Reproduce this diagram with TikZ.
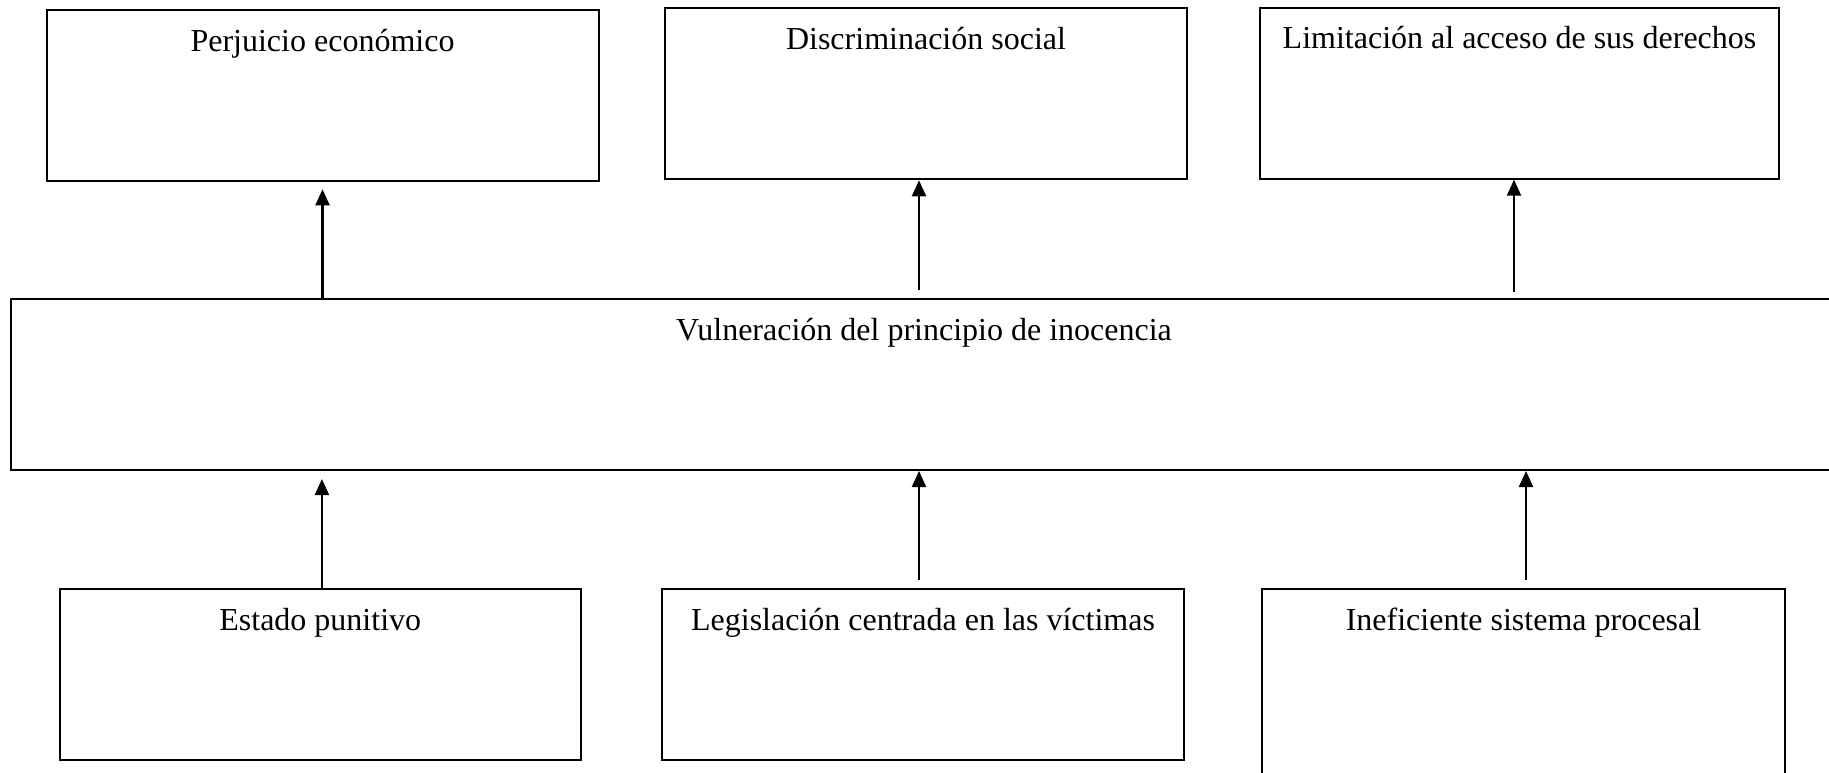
\documentclass[tikz,border=0pt]{standalone}
\usepackage{fontspec}
\setmainfont{Liberation Serif}
\usetikzlibrary{positioning,arrows.meta,calc}
\tikzset{
  caja/.style={draw,line width=2pt,inner sep=0pt,minimum height=171pt},
  rotulo/.style={anchor=base,yshift=-42pt,inner sep=0pt,font=\fontsize{32}{38}\selectfont},
  every edge/.style={draw,-{Triangle[length=16pt,width=14pt]},line width=2.2pt},
}
\begin{document}
\begin{tikzpicture}[x=1pt,y=-1pt]
\useasboundingbox (0,0) rectangle (1829,772);

% efectos
\node[caja,anchor=north west,minimum width=552pt,label={[rotulo]north:Perjuicio económico}] (Pe) at (45.5,9.3) {};
\node[caja,anchor=north west,minimum width=522pt,label={[rotulo]north:Discriminación social}] (Di) at (664,7.3) {};
\node[caja,anchor=north west,minimum width=519pt,label={[rotulo]north:Limitación al acceso de sus derechos}] (Li) at (1259,6.7) {};

% problema central
\node[caja,anchor=north west,minimum width=1826pt,label={[rotulo]north:Vulneración del principio de inocencia}] (Vu) at (10,298) {};

% causas
\node[caja,anchor=north west,minimum width=521.5pt,label={[rotulo]north:Estado punitivo}] (Es) at (58.5,588) {};
\node[caja,anchor=north west,minimum width=522pt,label={[rotulo]north:Legislación centrada en las víctimas}] (Le) at (661,588) {};
\node[caja,anchor=north west,minimum width=523pt,minimum height=200pt,label={[rotulo]north:Ineficiente sistema procesal}] (In) at (1261,588) {};

\path
(Vu.north -| Pe.south) edge[shorten >=7pt] (Pe.south)
(Vu.north -| Di.south) ++(-7,0) edge[shorten <=8pt] ([xshift=-7pt]Di.south)
(Vu.north -| Li.south) ++(-5.5,0) edge[shorten <=6pt] ([xshift=-5.5pt]Li.south)
([xshift=1.7pt]Es.north) edge[shorten >=8pt] ([xshift=1.7pt]Vu.south -| Es.north)
([xshift=-4pt]Le.north) edge[shorten <=8pt] ([xshift=-4pt]Vu.south -| Le.north)
([xshift=2.5pt]In.north) edge[shorten <=8pt] ([xshift=2.5pt]Vu.south -| In.north);

\end{tikzpicture}
\end{document}
